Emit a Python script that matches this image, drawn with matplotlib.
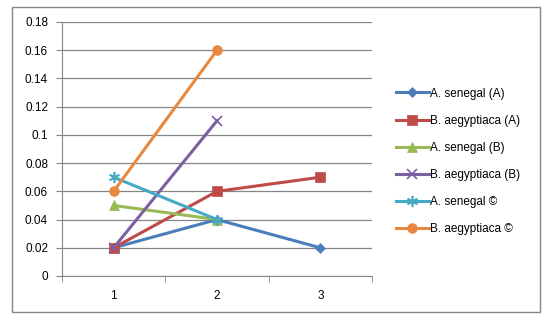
import matplotlib.pyplot as plt
from matplotlib.patches import Rectangle
from matplotlib.ticker import FuncFormatter

plt.rcParams['font.family'] = ['Liberation Sans', 'DejaVu Sans']

categories = [1, 2, 3]
series_names = ["A. senegal (A)", "B. aegyptiaca (A)", "A. senegal (B)",
                "B. aegyptiaca (B)", "A. senegal ©", "B. aegyptiaca ©"]
sen_a = [0.02, 0.04, 0.02]
aeg_a = [0.02, 0.06, 0.07]
sen_b = [0.05, 0.04]
aeg_b = [0.02, 0.11]
sen_c = [0.07, 0.04]
aeg_c = [0.06, 0.16]
y_ticks = [0, 0.02, 0.04, 0.06, 0.08, 0.1, 0.12, 0.14, 0.16, 0.18]

series = [sen_a, aeg_a, sen_b, aeg_b, sen_c, aeg_c]
colors = ["#4A7EBB", "#BE4B48", "#98B954", "#7D60A0", "#46AAC5", "#E8883E"]
markers = ["D", "s", "^", "x", (6, 2, 0), "o"]
msizes = [5, 7, 7, 7, 8, 7]

fig = plt.figure(figsize=(5.46, 3.2), dpi=100)
fig.patches.append(Rectangle((12 / 546, 1 - 312 / 320), 528 / 546, 305 / 320,
                             transform=fig.transFigure, fill=False,
                             edgecolor="#868686", linewidth=1))
ax = fig.add_axes([62 / 546, 1 - 276 / 320, 310 / 546, 254 / 320])

handles = []
for vals, name, c, m, ms in zip(series, series_names, colors, markers, msizes):
    thin = m in ("x", (6, 2, 0))
    h, = ax.plot(categories[:len(vals)], vals, color=c, marker=m, markersize=ms,
                 linewidth=2.2, label=name, markeredgewidth=1.2 if thin else 0.5,
                 markeredgecolor=c)
    handles.append(h)

ax.set_xlim(0.5, 3.5)
ax.set_ylim(0, 0.18)
ax.set_yticks(y_ticks)
ax.yaxis.set_major_formatter(FuncFormatter(lambda v, p: "%g" % round(v, 2)))
ax.set_xticks(categories)
ax.set_xticks([0.5, 1.5, 2.5, 3.5], minor=True)
ax.tick_params(axis="x", which="major", length=0, labelsize=8.5, pad=10)
ax.tick_params(axis="x", which="minor", length=4, color="#868686", direction="out")
ax.tick_params(axis="y", length=4, color="#868686", labelsize=8.5, pad=6)
ax.grid(axis="y", color="#868686", linewidth=0.9)
ax.set_axisbelow(True)
for s in ("top", "right"):
    ax.spines[s].set_visible(False)
for s in ("left", "bottom"):
    ax.spines[s].set_color("#868686")

fig.legend(handles=handles, loc="upper left", bbox_to_anchor=(385 / 546, 1 - 77 / 320),
           frameon=False, fontsize=8.5, handlelength=2.8, handletextpad=0.15,
           labelspacing=1.28)

fig.savefig("out.png", dpi=100)
